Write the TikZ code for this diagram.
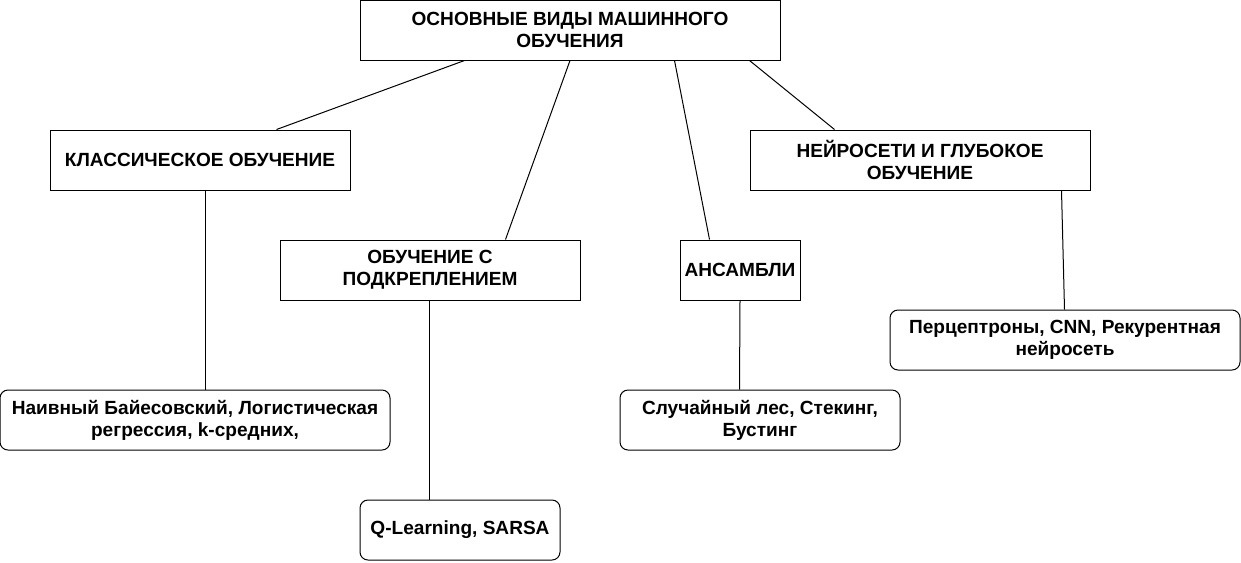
\documentclass[tikz,border=0pt]{standalone}
\usepackage{fontspec}
\setmainfont{Liberation Sans}
\usetikzlibrary{positioning, calc}
\tikzset{
	catbox/.style={rectangle, draw=black, line width=0.75pt, minimum height=45pt,
		align=center, font=\fontsize{14.3}{16.5}\selectfont\bfseries, inner sep=2pt},
	leafbox/.style={catbox, rounded corners=6pt},
	link/.style={draw=black, line width=0.75pt}
}

\begin{document}
\begin{tikzpicture}[x=0.75pt, y=-0.75pt]
		\useasboundingbox (0,0) rectangle (1241,562);
		% root and the four kinds
		\node[catbox, minimum width=315pt] (top) at (570,30) {ОСНОВНЫЕ ВИДЫ МАШИННОГО\\ОБУЧЕНИЯ};
		\node[catbox, minimum width=225pt] (classic) at (200,160) {КЛАССИЧЕСКОЕ ОБУЧЕНИЕ};
		\node[catbox, minimum width=255pt] (deep) at (920,160) {НЕЙРОСЕТИ И ГЛУБОКОЕ\\ОБУЧЕНИЕ};
		\node[catbox, minimum width=225pt] (reinf) at (430,270) {ОБУЧЕНИЕ С\\ПОДКРЕПЛЕНИЕМ};
		\node[catbox, minimum width=90pt] (ens) at (740,270) {АНСАМБЛИ};
		% examples
		\node[leafbox, minimum width=292.5pt] (bayes) at (195,420) {Наивный Байесовский, Логистическая\\регрессия, k-средних,};
		\node[leafbox, minimum width=210pt] (forest) at (760,420) {Случайный лес, Стекинг,\\Бустинг};
		\node[leafbox, minimum width=150pt] (qlearn) at (460,530) {Q-Learning, SARSA};
		\node[leafbox, minimum width=262.5pt] (percep) at (1065,340) {Перцептроны, CNN, Рекурентная\\нейросеть};
		\draw[link] ($(top.south west)+(105,0)$) -- ($(classic.north west)+(227,0)$);
		\draw[link] (top.south) -- ($(reinf.north west)+(226,0)$);
		\draw[link] ($(top.south west)+(315,0)$) -- ($(ens.north west)+(30,0)$);
		\draw[link] ($(top.south west)+(390,0)$) -- ($(deep.north west)+(85,0)$);
		\draw[link] ($(classic.south west)+(156,0)$) -- ($(bayes.north west)+(206,0)$);
		\draw[link] ($(reinf.south west)+(150,0)$) -- ($(qlearn.north west)+(70,0)$);
		\draw[link] (ens.south) -- ($(forest.north west)+(120,0)$);
		\draw[link] ($(deep.south west)+(312,0)$) -- ($(percep.north west)+(175,0)$);
	\end{tikzpicture}
\end{document}
